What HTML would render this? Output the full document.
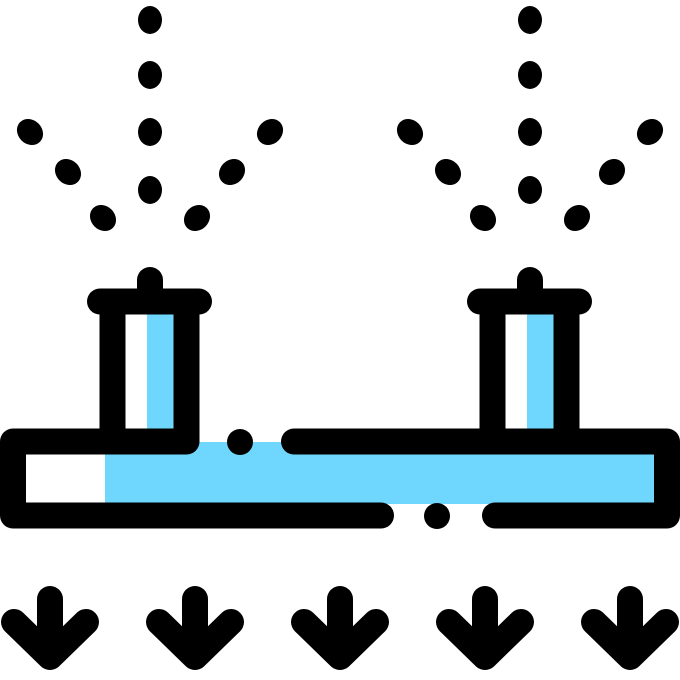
<!DOCTYPE html>
<html><head><meta charset="utf-8"><style>html,body{margin:0;padding:0;background:#fff}svg{display:block}</style></head>
<body>
<svg width="680" height="680" viewBox="0 0 680 680" xmlns="http://www.w3.org/2000/svg">
<defs>
<g id="drops">
<ellipse cx="150" cy="20" rx="12" ry="14"/>
<ellipse cx="150" cy="75" rx="12" ry="14"/>
<ellipse cx="150" cy="132" rx="12" ry="14"/>
<ellipse cx="150" cy="190" rx="12" ry="14"/>
<ellipse cx="30" cy="132" rx="12" ry="14" transform="rotate(-45 30 132)"/>
<ellipse cx="68" cy="172" rx="12" ry="14" transform="rotate(-45 68 172)"/>
<ellipse cx="103" cy="218" rx="12" ry="14" transform="rotate(-45 103 218)"/>
<ellipse cx="270" cy="132" rx="12" ry="14" transform="rotate(45 270 132)"/>
<ellipse cx="232" cy="172" rx="12" ry="14" transform="rotate(45 232 172)"/>
<ellipse cx="197" cy="218" rx="12" ry="14" transform="rotate(45 197 218)"/>
</g>
<g id="arrow" fill="none" stroke="#000" stroke-width="26" stroke-linecap="round" stroke-linejoin="round">
<path d="M50 599 V652"/>
<path d="M14 622 L50 657 L86 622"/>
</g>
</defs>
<!-- blue fills -->
<rect x="105" y="442" width="562" height="62" fill="#6fd7fd"/>
<rect x="147" y="312" width="27" height="120" fill="#6fd7fd"/>
<rect x="527" y="312" width="27" height="120" fill="#6fd7fd"/>
<g fill="#000">
<use href="#drops"/>
<use href="#drops" x="380"/>
<circle cx="240" cy="442" r="13"/>
<circle cx="437" cy="516" r="13"/>
</g>
<g fill="none" stroke="#000" stroke-width="26" stroke-linecap="round" stroke-linejoin="round">
<path d="M381 515.5 H13 V441.5 H186.5 V302"/>
<path d="M112.5 302 V441.5"/>
<path d="M100 301.5 H199"/>
<path d="M150 280 V300"/>
<path d="M294 441.5 H667 V515.5 H495"/>
<path d="M492.5 302 V441.5"/>
<path d="M566.5 302 V441.5"/>
<path d="M480 301.5 H579"/>
<path d="M530 280 V300"/>
</g>
<use href="#arrow"/>
<use href="#arrow" x="145"/>
<use href="#arrow" x="290"/>
<use href="#arrow" x="435"/>
<use href="#arrow" x="580"/>
</svg>
</body></html>
